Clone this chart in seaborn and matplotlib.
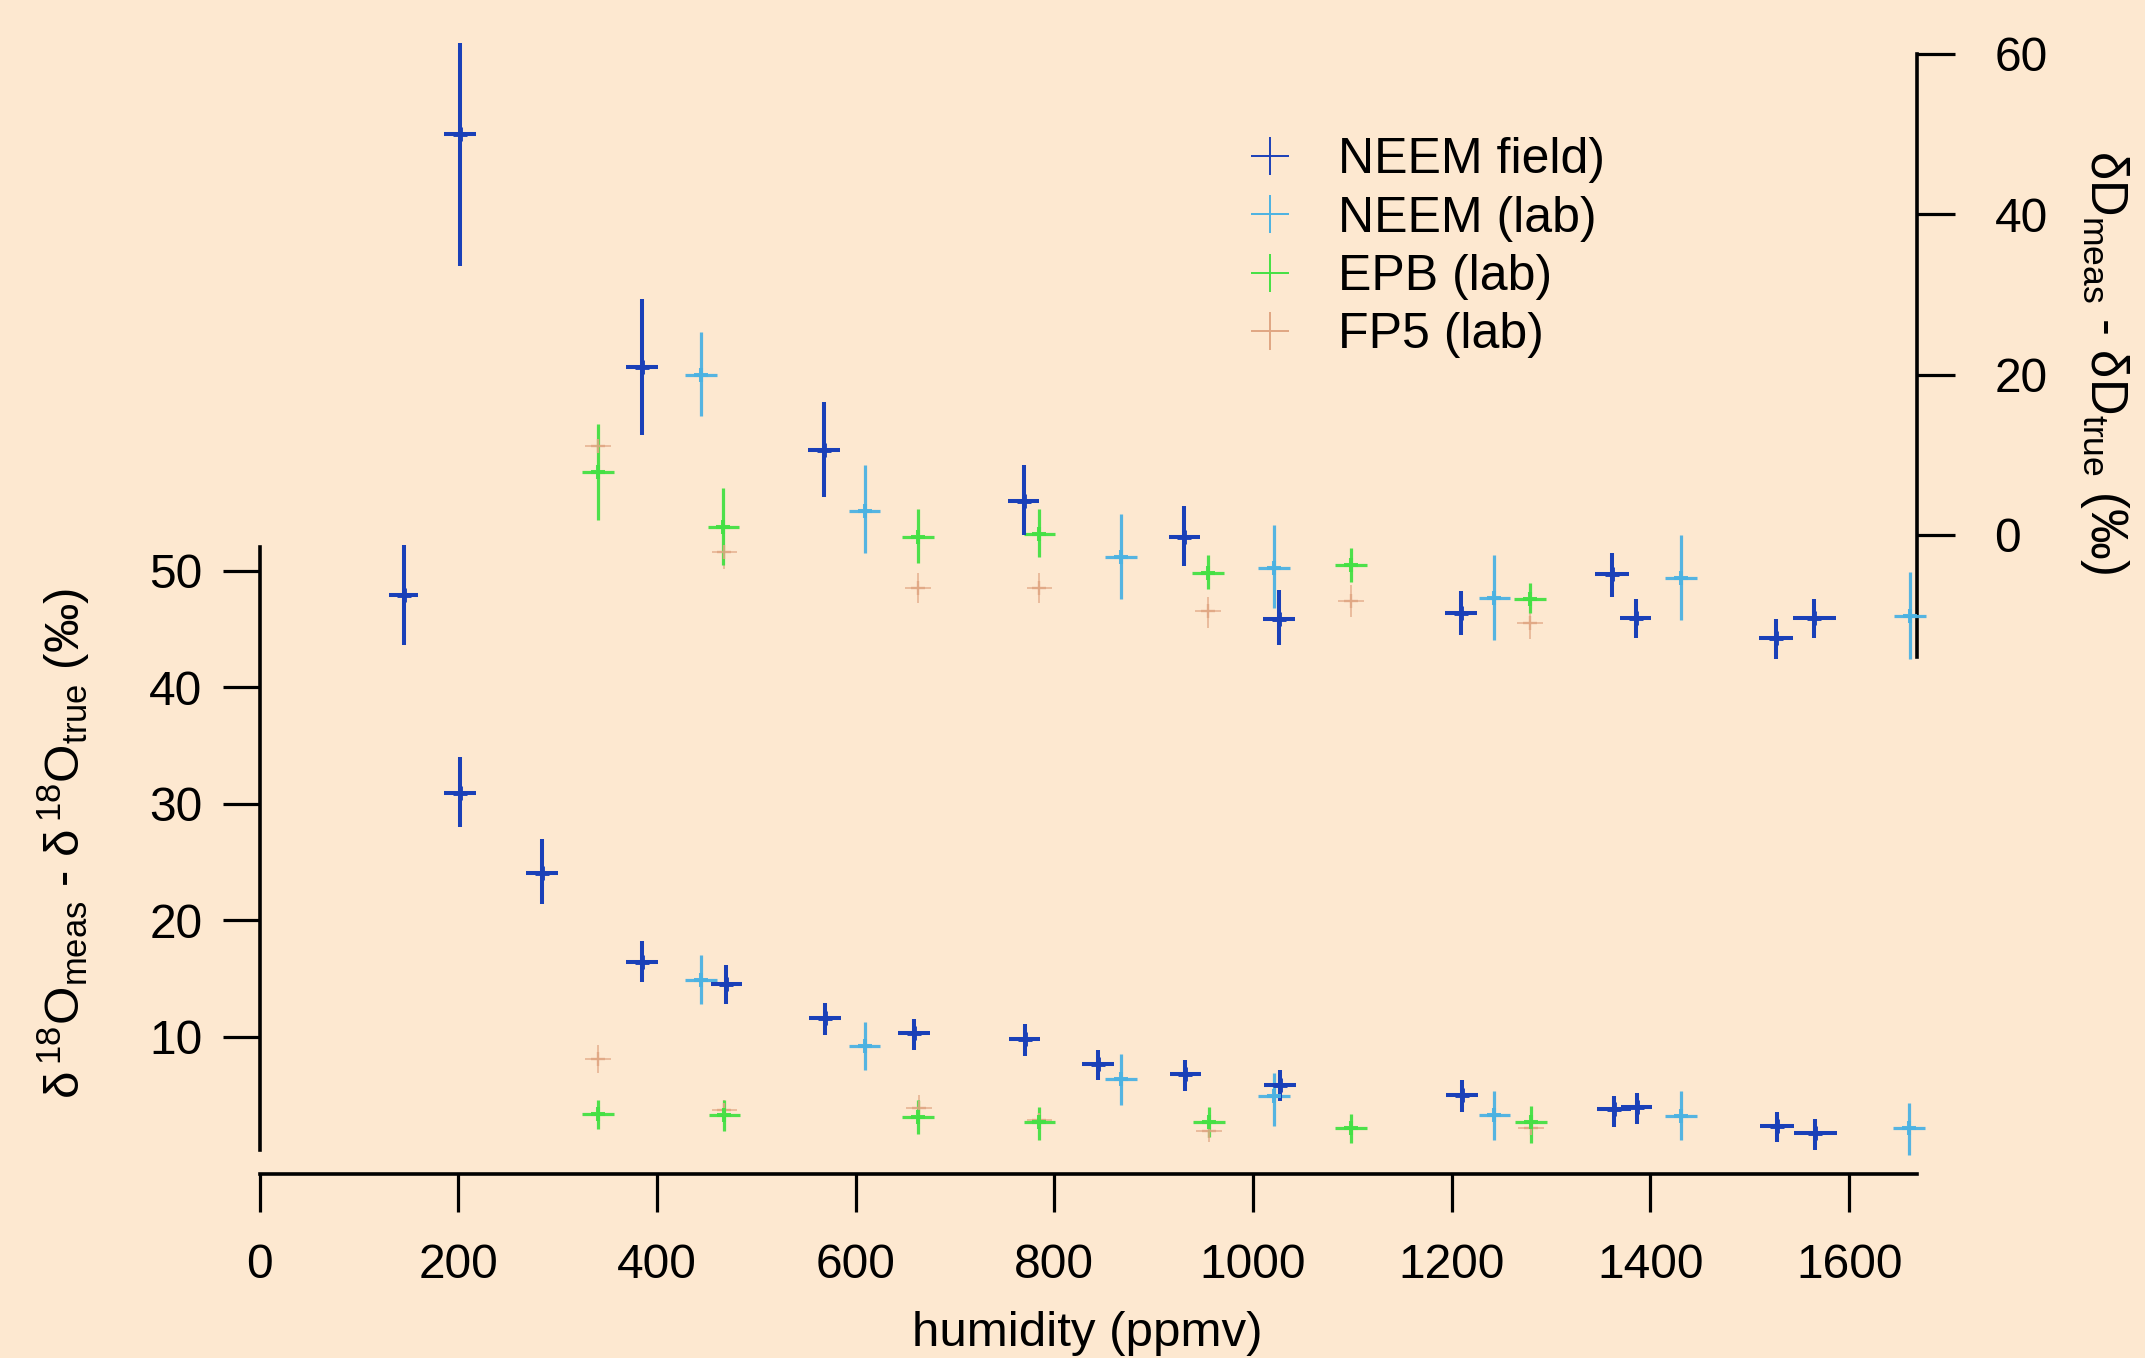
import matplotlib
matplotlib.use("Agg")
import matplotlib.pyplot as plt
from matplotlib.lines import Line2D
import numpy as np
import pandas as pd
import seaborn as sns

# ---------------- data ----------------
# NEEM field: delta18O (left axis)
nf_o_x = [145, 202, 284, 385, 470, 569, 659, 770, 844, 932, 1027, 1210, 1363, 1386, 1527, 1566]
nf_o_y = [47.9, 30.9, 24.1, 16.4, 14.5, 11.6, 10.3, 9.8, 7.7, 6.8, 5.9, 5.0, 3.8, 4.0, 2.4, 1.8]
nf_o_lo = [43.6, 28.0, 21.4, 14.7, 12.8, 10.2, 8.9, 8.4, 6.3, 5.4, 4.5, 3.6, 2.3, 2.5, 1.0, 0.3]
nf_o_hi = [52.2, 34.0, 27.0, 18.2, 16.2, 12.9, 11.5, 11.1, 8.9, 8.0, 7.2, 6.3, 4.9, 5.2, 3.6, 3.0]
nf_o_xe = [15, 16, 16, 16, 16, 16, 16, 16, 16, 16, 16, 16, 17, 16, 17, 22]
# NEEM field: deltaD (right axis)
nf_d_x = [202, 385, 568, 769, 931, 1026, 1209, 1361, 1385, 1526, 1565]
nf_d_y = [50.0, 20.9, 10.6, 4.2, -0.2, -10.5, -9.7, -4.9, -10.3, -12.9, -10.3]
nf_d_lo = [33.5, 12.5, 4.8, 0.0, -3.9, -13.7, -12.5, -7.7, -12.8, -15.4, -12.8]
nf_d_hi = [61.4, 29.4, 16.6, 8.7, 3.6, -6.9, -7.0, -2.2, -8.0, -10.5, -8.0]
nf_d_xe = [16, 16, 16, 16, 16, 16, 16, 17, 16, 17, 22]

# NEEM lab
nl_o_x = [444, 609, 867, 1021, 1243, 1431, 1660]
nl_o_y = [14.9, 9.2, 6.4, 4.9, 3.3, 3.2, 2.2]
nl_o_lo = [12.8, 7.2, 4.2, 2.4, 1.2, 1.2, -0.1]
nl_o_hi = [17.0, 11.3, 8.5, 6.9, 5.4, 5.4, 4.3]
nl_d_x = [444, 609, 867, 1021, 1243, 1431, 1661]
nl_d_y = [19.9, 3.0, -2.7, -4.1, -7.8, -5.3, -10.1]
nl_d_lo = [14.8, -2.2, -8.0, -9.1, -13.1, -10.6, -15.4]
nl_d_hi = [25.3, 8.7, 2.6, 1.3, -2.5, 0.0, -4.6]

# EPB lab
ep_o_x = [341, 468, 663, 785, 956, 1099, 1280]
ep_o_y = [3.4, 3.3, 3.1, 2.7, 2.7, 2.2, 2.7]
ep_o_lo = [2.1, 1.9, 1.7, 1.2, 1.4, 0.9, 0.9]
ep_o_hi = [4.6, 4.6, 4.6, 4.0, 4.0, 3.4, 4.1]
ep_d_x = [341, 467, 663, 785, 955, 1099, 1279]
ep_d_y = [7.8, 1.0, -0.2, 0.1, -4.8, -3.7, -8.0]
ep_d_lo = [1.9, -3.7, -3.5, -2.8, -6.7, -5.8, -9.7]
ep_d_hi = [13.8, 5.8, 3.2, 3.2, -2.5, -1.6, -6.0]

# FP5 lab
fp_o_x = [341, 468, 664, 785, 956, 1280]
fp_o_y = [8.1, 3.7, 3.9, 2.9, 1.9, 2.2]
fp_o_lo = [6.9, 3.0, 3.0, 2.0, 1.0, 1.4]
fp_o_hi = [9.3, 4.6, 5.0, 3.8, 2.8, 3.0]
fp_d_x = [341, 468, 663, 785, 955, 1099, 1279]
fp_d_y = [11.1, -2.1, -6.6, -6.6, -9.5, -8.2, -11.0]
fp_d_lo = [8.6, -4.3, -8.5, -8.5, -11.6, -10.2, -13.0]
fp_d_hi = [13.5, 0.1, -4.7, -4.7, -7.7, -6.2, -9.0]

series_names = ["NEEM field)", "NEEM (lab)", "EPB (lab)", "FP5 (lab)"]
x_ticks = [0, 200, 400, 600, 800, 1000, 1200, 1400, 1600]
left_ticks = [10, 20, 30, 40, 50]
right_ticks = [0, 20, 40, 60]

# ---------------- style ----------------
BG = "#fde8d0"
sns.set_style("ticks")
plt.rcParams["font.family"] = ["Liberation Sans", "DejaVu Sans"]
plt.rcParams["mathtext.fontset"] = "custom"
plt.rcParams["mathtext.rm"] = "Liberation Sans"
plt.rcParams["mathtext.it"] = "Liberation Sans:italic"
plt.rcParams["mathtext.default"] = "regular"
plt.rcParams["text.color"] = "black"
plt.rcParams["axes.labelcolor"] = "black"
plt.rcParams["xtick.color"] = "black"
plt.rcParams["ytick.color"] = "black"

colors = ["#1a40b8", "#4cb2e2", "#44e044", "#e0a682"]
lws = [2.9, 2.3, 2.3, 1.1]
alphas = [1.0, 0.95, 0.95, 0.85]

fig = plt.figure(figsize=(21.45, 13.58), dpi=100, facecolor=BG)
ax = fig.add_axes([259.5 / 2145, 1 - 1173.8 / 1358, 1657.2 / 2145, (1173.8 - 40) / 1358])
ax.set_facecolor(BG)
ax.patch.set_alpha(0)
ax2 = ax.twinx()
ax2.patch.set_alpha(0)

ax.set_xlim(0, 1668)
ax.set_ylim(-1.741, 95.5)
ax2.set_ylim(-79.65, 61.72)

def draw(axis, xs, ys, lo, hi, xe, i):
    y = np.asarray(ys)
    yerr = [y - np.asarray(lo), np.asarray(hi) - y]
    axis.errorbar(xs, ys, yerr=yerr, xerr=xe, fmt="none", ecolor=colors[i],
                  elinewidth=lws[i], capsize=0, alpha=alphas[i], clip_on=False, zorder=3)
    df = pd.DataFrame({"x": xs, "y": ys})
    sns.scatterplot(data=df, x="x", y="y", ax=axis, marker="+", s=90,
                    color=colors[i], linewidth=lws[i] + 0.6, legend=False,
                    alpha=alphas[i], clip_on=False, zorder=4)

draw(ax, fp_o_x, fp_o_y, fp_o_lo, fp_o_hi, [13] * len(fp_o_x), 3)
draw(ax2, fp_d_x, fp_d_y, fp_d_lo, fp_d_hi, [13] * len(fp_d_x), 3)
draw(ax, ep_o_x, ep_o_y, ep_o_lo, ep_o_hi, [16] * len(ep_o_x), 2)
draw(ax2, ep_d_x, ep_d_y, ep_d_lo, ep_d_hi, [16] * len(ep_d_x), 2)
draw(ax, nl_o_x, nl_o_y, nl_o_lo, nl_o_hi, [16] * len(nl_o_x), 1)
draw(ax2, nl_d_x, nl_d_y, nl_d_lo, nl_d_hi, [16] * len(nl_d_x), 1)
draw(ax, nf_o_x, nf_o_y, nf_o_lo, nf_o_hi, nf_o_xe, 0)
draw(ax2, nf_d_x, nf_d_y, nf_d_lo, nf_d_hi, nf_d_xe, 0)

# ---------------- axes / spines ----------------
for a in (ax, ax2):
    a.set_xlabel("")
    a.set_ylabel("")
    a.spines["top"].set_visible(False)
ax.spines["right"].set_visible(False)
ax2.spines["left"].set_visible(False)
ax2.spines["bottom"].set_visible(False)
for sp in ("left", "bottom"):
    ax.spines[sp].set_linewidth(2.6)
    ax.spines[sp].set_color("black")
ax2.spines["right"].set_linewidth(2.6)
ax2.spines["right"].set_color("black")
ax.spines["left"].set_bounds(0.3, 52)
ax.spines["bottom"].set_bounds(0, 1668)
ax2.spines["right"].set_bounds(-15.2, 60)

ax.set_xticks(x_ticks)
ax.set_xticklabels([str(t) for t in x_ticks])
ax.set_yticks(left_ticks)
ax.set_yticklabels([str(t) for t in left_ticks])
ax2.set_yticks(right_ticks)
ax2.set_yticklabels([str(t) for t in right_ticks])

ax.tick_params(axis="x", direction="out", length=27, width=2.3, pad=23, labelsize=34.5, colors="black")
ax.tick_params(axis="y", direction="out", length=27, width=2.3, pad=14, labelsize=34.5, colors="black")
ax2.tick_params(axis="y", direction="out", length=27, width=2.3, pad=29, labelsize=34.5, colors="black")

# ---------------- labels ----------------
fig.text(1087 / 2145, 1 - 1333 / 1358, "humidity (ppmv)", ha="center", va="center",
         fontsize=35.5, color="black")
fig.text(64 / 2145, 1 - 843 / 1358, r"$δ\,^{18}O_{meas}$ - $δ\,^{18}O_{true}$ (‰)",
         ha="center", va="center", rotation=90, fontsize=35.5, color="black")
fig.text(2104 / 2145, 1 - 362 / 1358, r"$δD_{meas}$ - $δD_{true}$ (‰)",
         ha="center", va="center", rotation=270, fontsize=36.5, color="black")

# ---------------- legend ----------------
handles = [Line2D([], [], ls="none", marker="+", color=c, markersize=27, mew=1.4)
           for c in colors]
leg = fig.legend(handles, series_names, loc="upper left",
                 bbox_to_anchor=(1245 / 2145, 1 - 137 / 1358),
                 frameon=False, fontsize=36, handlelength=1.0, handletextpad=0.86,
                 labelspacing=0.25, borderpad=0, borderaxespad=0)
for t in leg.get_texts():
    t.set_color("black")

fig.savefig("out.png", dpi=100, facecolor=BG)
